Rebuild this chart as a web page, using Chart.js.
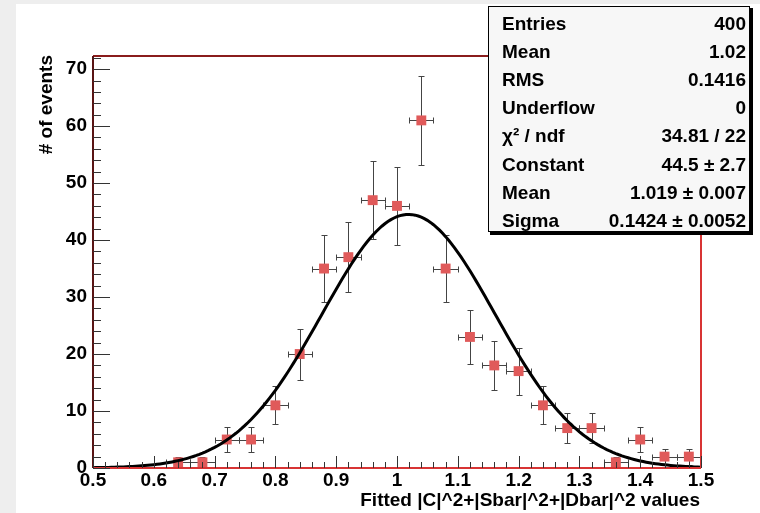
<!DOCTYPE html>
<html>
<head>
<meta charset="utf-8">
<script src="https://cdn.jsdelivr.net/npm/chart.js@4.4.1/dist/chart.umd.min.js"></script>
<style>
  html, body { margin: 0; padding: 0; background: #eeeeee; }
</style>
</head>
<body>
<canvas id="fitChart" width="760" height="513"></canvas>
<script>
// histogram: 25 bins of 0.04 between 0.5 and 1.5
const binCentres = [0.52, 0.56, 0.60, 0.64, 0.68, 0.72, 0.76, 0.80, 0.84, 0.88, 0.92, 0.96, 1.00,
                    1.04, 1.08, 1.12, 1.16, 1.20, 1.24, 1.28, 1.32, 1.36, 1.40, 1.44, 1.48];
const binCounts  = [0, 0, 0, 1, 1, 5, 5, 11, 20, 35, 37, 47, 46,
                    61, 35, 23, 18, 17, 11, 7, 7, 1, 5, 2, 2];
const binHalfWidth = 0.02;

const xTicks = [0.5, 0.6, 0.7, 0.8, 0.9, 1.0, 1.1, 1.2, 1.3, 1.4, 1.5];
const xTickLabels = ['0.5', '0.6', '0.7', '0.8', '0.9', '1', '1.1', '1.2', '1.3', '1.4', '1.5'];
const yTicks = [0, 10, 20, 30, 40, 50, 60, 70];
const yTickLabels = ['0', '10', '20', '30', '40', '50', '60', '70'];

// gaussian fit result (from the stats box)
const fitConstant = 44.5;
const fitMean = 1.019;
const fitSigma = 0.1424;

const statNames  = ['Entries', 'Mean', 'RMS', 'Underflow', 'χ² / ndf', 'Constant', 'Mean', 'Sigma'];
const statValues = ['400', '1.02', '0.1416', '0', '34.81 / 22', '44.5 ± 2.7', '1.019 ± 0.007', '0.1424 ± 0.0052'];

const FONT = "'Liberation Sans', Arial, sans-serif";

const points = [];
binCentres.forEach((x, i) => {
    if (binCounts[i] > 0) points.push({ x: x, y: binCounts[i] });
});

// fitted function sampled along x
const fitCurve = [];
for (let i = 0; i <= 200; i++) {
    const x = 0.5 + i * 0.005;
    fitCurve.push({ x: x, y: fitConstant * Math.exp(-0.5 * Math.pow((x - fitMean) / fitSigma, 2)) });
}

const rootStyle = {
    id: 'rootStyle',
    beforeDraw(chart) {
        const ctx = chart.ctx;
        ctx.save();
        ctx.fillStyle = '#ffffff';
        ctx.fillRect(16, 4, 744, 509);
        ctx.restore();
    },
    beforeDatasetsDraw(chart) {
        // error bars
        const ctx = chart.ctx;
        const xs = chart.scales.x, ys = chart.scales.y;
        ctx.save();
        ctx.strokeStyle = '#444444';
        ctx.lineWidth = 1;
        points.forEach(p => {
            const err = Math.sqrt(p.y);
            const px = Math.round(xs.getPixelForValue(p.x)) + 0.5;
            const py = Math.round(ys.getPixelForValue(p.y)) + 0.5;
            const yTop = Math.round(ys.getPixelForValue(p.y + err)) + 0.5;
            const yBot = Math.round(ys.getPixelForValue(Math.max(0, p.y - err))) + 0.5;
            const xl = Math.round(xs.getPixelForValue(p.x - binHalfWidth)) + 0.5;
            const xr = Math.round(xs.getPixelForValue(p.x + binHalfWidth)) + 0.5;
            ctx.beginPath();
            ctx.moveTo(px, yTop); ctx.lineTo(px, yBot);
            ctx.moveTo(px - 3, yTop); ctx.lineTo(px + 3, yTop);
            ctx.moveTo(px - 3, yBot); ctx.lineTo(px + 3, yBot);
            ctx.moveTo(xl, py); ctx.lineTo(xr, py);
            ctx.moveTo(xl, py - 3); ctx.lineTo(xl, py + 3);
            ctx.moveTo(xr, py - 3); ctx.lineTo(xr, py + 3);
            ctx.stroke();
        });
        ctx.restore();
    },
    afterDraw(chart) {
        const ctx = chart.ctx;
        const a = chart.chartArea;
        const xs = chart.scales.x, ys = chart.scales.y;
        ctx.save();

        // frame
        ctx.lineWidth = 2;
        ctx.strokeStyle = '#8a1c1c';
        ctx.beginPath(); ctx.moveTo(a.left, a.top); ctx.lineTo(a.right, a.top); ctx.stroke();
        ctx.strokeStyle = '#d83434';
        ctx.beginPath(); ctx.moveTo(a.right, a.top); ctx.lineTo(a.right, a.bottom); ctx.stroke();
        ctx.beginPath(); ctx.moveTo(a.left, a.bottom); ctx.lineTo(a.right, a.bottom); ctx.stroke();
        ctx.strokeStyle = '#5a1414';
        ctx.beginPath(); ctx.moveTo(a.left, a.top); ctx.lineTo(a.left, a.bottom); ctx.stroke();

        // ticks drawn inside the frame
        ctx.lineWidth = 1;
        ctx.strokeStyle = '#333333';
        ctx.beginPath();
        for (let i = 0; i <= 50; i++) {
            const v = 0.5 + i * 0.02;
            const px = Math.round(xs.getPixelForValue(v)) + 0.5;
            const len = i % 5 === 0 ? 12 : 6;
            ctx.moveTo(px, a.bottom); ctx.lineTo(px, a.bottom - len);
        }
        for (let v = 0; v <= 72; v += 2) {
            const py = Math.round(ys.getPixelForValue(v)) + 0.5;
            const len = v % 10 === 0 ? 17 : 8;
            ctx.moveTo(a.left, py); ctx.lineTo(a.left + len, py);
        }
        ctx.stroke();

        // axis titles
        ctx.fillStyle = '#000000';
        ctx.font = 'bold 19px ' + FONT;
        ctx.textAlign = 'right';
        ctx.textBaseline = 'alphabetic';
        ctx.fillText('Fitted |C|^2+|Sbar|^2+|Dbar|^2 values', 700, 506);
        ctx.save();
        ctx.translate(52, 55);
        ctx.rotate(-Math.PI / 2);
        ctx.fillText('# of events', 0, 0);
        ctx.restore();

        // stats box
        const bx = 488, by = 6, bw = 262, bh = 226;
        ctx.fillStyle = '#000000';
        ctx.fillRect(bx + 2, by + bh, bw + 1, 3);
        ctx.fillRect(bx + bw, by + 2, 3, bh + 1);
        ctx.fillStyle = '#f7f7f7';
        ctx.fillRect(bx, by, bw, bh);
        ctx.strokeStyle = '#000000';
        ctx.lineWidth = 1;
        ctx.strokeRect(bx + 0.5, by + 0.5, bw - 1, bh - 1);

        ctx.fillStyle = '#000000';
        ctx.font = 'bold 19px ' + FONT;
        statNames.forEach((name, i) => {
            const base = 30 + i * 28.1;
            ctx.textAlign = 'left';
            ctx.fillText(name, 502, base);
            ctx.textAlign = 'right';
            ctx.fillText(statValues[i], 746, base);
        });
        ctx.restore();
    }
};

const ctx = document.getElementById('fitChart').getContext('2d');

new Chart(ctx, {
    type: 'scatter',
    data: {
        datasets: [{
            label: 'gaus fit',
            data: fitCurve,
            showLine: true,
            borderColor: '#000000',
            borderWidth: 3,
            pointRadius: 0,
            tension: 0
        }, {
            label: 'histogram',
            data: points,
            pointStyle: 'rect',
            pointRadius: 7,
            backgroundColor: '#e05a5a',
            borderWidth: 0
        }]
    },
    options: {
        responsive: false,
        animation: false,
        layout: { padding: { left: 0, right: 59, top: 56, bottom: 0 } },
        plugins: {
            legend: { display: false },
            tooltip: { enabled: false }
        },
        scales: {
            x: {
                type: 'linear',
                min: 0.5,
                max: 1.5,
                grid: { display: false, tickLength: 0 },
                border: { display: false },
                afterBuildTicks: s => { s.ticks = xTicks.map(v => ({ value: v })); },
                afterFit: s => { s.height = 45; },
                ticks: {
                    autoSkip: false,
                    maxRotation: 0,
                    padding: 3,
                    color: '#000000',
                    font: { family: FONT, size: 19, weight: 'bold', lineHeight: 1 },
                    callback: (v) => xTickLabels[xTicks.findIndex(t => Math.abs(t - v) < 1e-6)]
                }
            },
            y: {
                min: 0,
                max: 72.3,
                grid: { display: false, tickLength: 0 },
                border: { display: false },
                afterBuildTicks: s => { s.ticks = yTicks.map(v => ({ value: v })); },
                afterFit: s => { s.width = 93; },
                ticks: {
                    padding: 6,
                    color: '#000000',
                    font: { family: FONT, size: 19, weight: 'bold' },
                    callback: (v) => yTickLabels[yTicks.indexOf(v)]
                }
            }
        }
    },
    plugins: [rootStyle]
});
</script>
</body>
</html>
